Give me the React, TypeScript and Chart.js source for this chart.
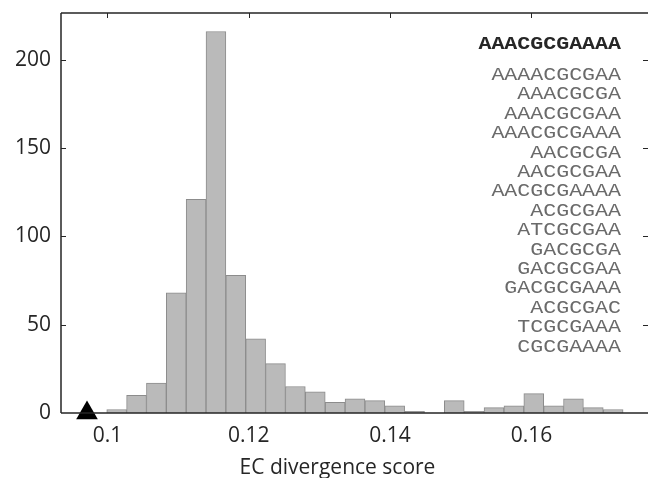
import React, { useEffect, useRef } from 'react';
import { Chart, registerables } from 'chart.js';

Chart.register(...registerables);

// Histogram bins (bin centres) and counts
const binCenters = [
  0.1013, 0.10411, 0.10692, 0.10973, 0.11254, 0.11535, 0.11816, 0.12097, 0.12378,
  0.12659, 0.12941, 0.13222, 0.13503, 0.13784, 0.14065, 0.14346, 0.14627, 0.14908,
  0.15189, 0.1547, 0.15752, 0.16033, 0.16314, 0.16595, 0.16876, 0.17157,
];
const counts = [2, 10, 17, 68, 121, 216, 78, 42, 28, 15, 12, 6, 8, 7, 4, 1, 0, 7, 1, 3, 4, 11, 4, 8, 3, 2];

// Marker (triangle) for the reference motif score
const markerX = [0.0971];
const markerY = [0];

const xTicks = [0.1, 0.12, 0.14, 0.16];
const xTickLabels = ['0.1', '0.12', '0.14', '0.16'];
const yTicks = [0, 50, 100, 150, 200];
const yTickLabels = ['0', '50', '100', '150', '200'];
const xRange = [0.09342, 0.1765];
const yRange = [0, 226.5];

const xTitle = 'EC divergence score';
const motifTop = 'AAACGCGAAAA';
const motifs = [
  'AAAACGCGAA',
  'AAACGCGA',
  'AAACGCGAA',
  'AAACGCGAAA',
  'AACGCGA',
  'AACGCGAA',
  'AACGCGAAAA',
  'ACGCGAA',
  'ATCGCGAA',
  'GACGCGA',
  'GACGCGAA',
  'GACGCGAAA',
  'ACGCGAC',
  'TCGCGAAA',
  'CGCGAAAA',
];

const SANS = '"Open Sans", "DejaVu Sans", sans-serif';
const MONO = '"Liberation Mono", "DejaVu Sans Mono", monospace';

const decorPlugin = {
  id: 'decor',
  afterDatasetsDraw(chart: any) {
    const { ctx, chartArea: a, scales } = chart;
    ctx.save();
    ctx.strokeStyle = '#262626';
    ctx.lineWidth = 1.5;
    ctx.beginPath();
    ctx.moveTo(a.left, a.top);
    ctx.lineTo(a.right, a.top);
    ctx.moveTo(a.left, a.top);
    ctx.lineTo(a.left, a.bottom);
    ctx.moveTo(a.left, a.bottom);
    ctx.lineTo(a.right, a.bottom);
    ctx.stroke();
    ctx.lineWidth = 1;
    ctx.beginPath();
    scales.y.ticks.forEach((t: any) => {
      if (t.value === 0) return;
      const py = Math.round(scales.y.getPixelForValue(t.value)) + 0.5;
      ctx.moveTo(a.left, py);
      ctx.lineTo(a.left + 5, py);
      ctx.moveTo(a.right - 5, py);
      ctx.lineTo(a.right, py);
    });
    scales.x.ticks.forEach((t: any) => {
      const px = Math.round(scales.x.getPixelForValue(t.value)) + 0.5;
      ctx.moveTo(px, a.top);
      ctx.lineTo(px, a.top + 5);
    });
    ctx.stroke();
    ctx.restore();
  },
  afterDraw(chart: any) {
    const { ctx, chartArea: a } = chart;
    ctx.save();
    // motif list
    const rx = a.right - 27;
    const sx = 1.2;
    ctx.textAlign = 'right';
    ctx.textBaseline = 'alphabetic';
    ctx.fillStyle = '#262626';
    ctx.font = 'bold 18px ' + MONO;
    ctx.save();
    ctx.translate(rx, 49);
    ctx.scale(sx, 1);
    ctx.fillText(motifTop, 0, 0);
    ctx.restore();
    ctx.fillStyle = '#6a6a6a';
    ctx.font = '18px ' + MONO;
    motifs.forEach((m, i) => {
      ctx.save();
      ctx.translate(rx, 80 + i * 19.4);
      ctx.scale(sx, 1);
      ctx.fillText(m, 0, 0);
      ctx.restore();
    });
    // x axis title
    ctx.fillStyle = '#262626';
    ctx.textAlign = 'center';
    ctx.font = '21px ' + SANS;
    ctx.fillText(xTitle, 337.5, 474);
    ctx.restore();
  },
};

export default function App() {
  const ref = useRef<HTMLCanvasElement | null>(null);
  useEffect(() => {
    if (!ref.current) return;
    const chart = new Chart(ref.current, {
      type: 'bar',
      data: {
        datasets: [
          {
            type: 'scatter' as any,
            data: markerX.map((x, i) => ({ x, y: markerY[i] })),
            pointStyle: 'triangle',
            pointRadius: 12.5,
            backgroundColor: '#000000',
            borderColor: '#000000',
            borderWidth: 0,
            clip: false as any,
            order: 0,
          } as any,
          {
            type: 'bar',
            data: binCenters.map((x, i) => ({ x, y: counts[i] })),
            backgroundColor: '#bababa',
            borderColor: '#8c8c8c',
            borderWidth: 1,
            barPercentage: 1,
            categoryPercentage: 1,
            order: 1,
          } as any,
        ],
      },
      options: {
        animation: false,
        responsive: false,
        devicePixelRatio: 1,
        layout: { autoPadding: false, padding: { top: 13, left: 0, right: 0, bottom: 0 } },
        plugins: { legend: { display: false }, tooltip: { enabled: false }, title: { display: false } },
        scales: {
          x: {
            type: 'linear',
            min: xRange[0],
            max: xRange[1],
            offset: false,
            grid: { display: false, drawTicks: false },
            border: { display: false },
            afterBuildTicks: (s: any) => {
              s.ticks = xTicks.map((v) => ({ value: v }));
            },
            afterFit: (s: any) => {
              s.height = 65;
              s.paddingLeft = 0;
              s.paddingRight = 0;
              s.paddingTop = 0;
              s.paddingBottom = 0;
            },
            ticks: {
              padding: 10,
              autoSkip: false,
              maxRotation: 0,
              color: '#262626',
              font: { family: SANS, size: 21 },
              callback: (_v: any, i: number) => xTickLabels[i],
            },
          },
          y: {
            type: 'linear',
            min: yRange[0],
            max: yRange[1],
            grid: { display: false, drawTicks: false },
            border: { display: false },
            afterBuildTicks: (s: any) => {
              s.ticks = yTicks.map((v) => ({ value: v }));
            },
            afterFit: (s: any) => {
              s.width = 61;
              s.paddingLeft = 0;
              s.paddingRight = 0;
              s.paddingTop = 0;
              s.paddingBottom = 0;
            },
            ticks: {
              padding: 10,
              color: '#262626',
              font: { family: SANS, size: 21 },
              callback: (_v: any, i: number) => yTickLabels[i],
            },
          },
        },
      } as any,
      plugins: [decorPlugin],
    });
    return () => chart.destroy();
  }, []);
  return (
    <div style={{ position: 'absolute', left: 0, top: 0, width: 648, height: 478, background: '#ffffff' }}>
      <canvas ref={ref} width={648} height={478} />
    </div>
  );
}
